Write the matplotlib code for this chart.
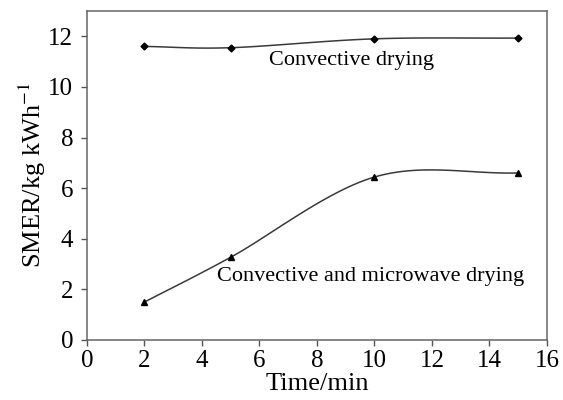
import numpy as np
import matplotlib.pyplot as plt

plt.rcParams['font.family'] = ['Liberation Serif', 'DejaVu Serif']
plt.rcParams['mathtext.fontset'] = 'stix'

time_min = [2, 5, 10, 15]
smer_convective = [11.6, 11.55, 11.9, 11.93]
smer_microwave = [1.5, 3.27, 6.44, 6.6]


def smooth(x, y, n=40):
    # Catmull-Rom style smoothing, similar to spreadsheet "smoothed line"
    x = np.asarray(x, float)
    y = np.asarray(y, float)
    px = np.concatenate([[2 * x[0] - x[1]], x, [2 * x[-1] - x[-2]]])
    py = np.concatenate([[2 * y[0] - y[1]], y, [2 * y[-1] - y[-2]]])
    xs, ys = [], []
    t = np.linspace(0, 1, n)
    for i in range(1, len(px) - 2):
        for p, out in ((px, xs), (py, ys)):
            p0, p1, p2, p3 = p[i - 1], p[i], p[i + 1], p[i + 2]
            out.extend(0.5 * ((2 * p1) + (-p0 + p2) * t
                              + (2 * p0 - 5 * p1 + 4 * p2 - p3) * t ** 2
                              + (-p0 + 3 * p1 - 3 * p2 + p3) * t ** 3))
    return np.array(xs), np.array(ys)


fig = plt.figure(figsize=(5.63, 4), dpi=100)
ax = fig.add_axes([0.1545, 0.15, 0.817, 0.8225])

line_c = '#3a3a3a'
for yv, mk, ms in ((smer_convective, 'D', 3.5), (smer_microwave, '^', 5)):
    sx, sy = smooth(time_min, yv)
    ax.plot(sx, sy, color=line_c, lw=1.1)
    ax.plot(time_min, yv, ls='none', marker=mk, ms=ms, color='black')

ax.text(9.2, 11.05, 'Convective drying', ha='center', va='center', fontsize=16)
ax.text(9.85, 2.5, 'Convective and microwave drying', ha='center', va='center', fontsize=16)

ax.set_xlim(0, 16)
ax.set_ylim(0, 13)
ax.set_xticks(np.arange(0, 17, 2))
ax.set_yticks(np.arange(0, 13, 2))
ax.tick_params(labelsize=18, direction='out', length=4, color='#555555', width=1)
ax.tick_params(axis='x', pad=3)
ax.tick_params(axis='y', pad=6)
for s in ax.spines.values():
    s.set_color('#666666')
    s.set_linewidth(1.1)
ax.set_xlabel('Time/min', fontsize=19, labelpad=1)
ax.set_ylabel('SMER/kg kWh$^{-1}$', fontsize=19, labelpad=0)

fig.savefig('out.png', dpi=100)
